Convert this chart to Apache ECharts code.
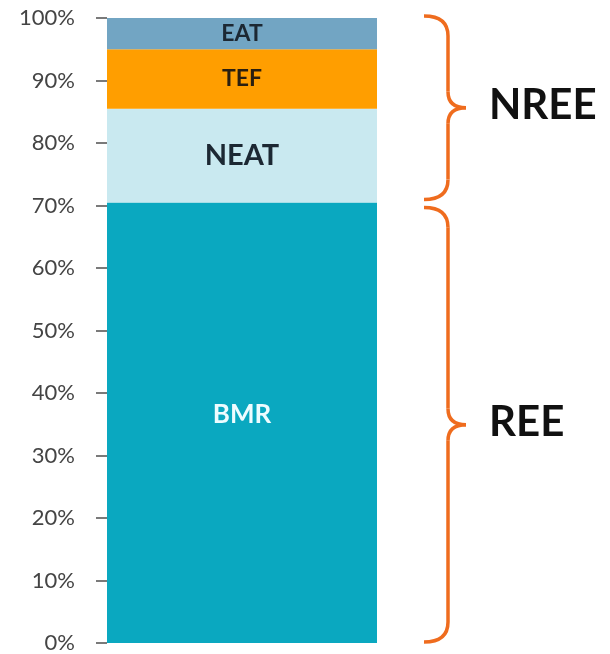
<!DOCTYPE html>
<html>
<head>
<meta charset="utf-8">
<style>
  html, body { margin: 0; padding: 0; background: #fff; }
  #chart { width: 610px; height: 654px; }
</style>
<script src="https://cdn.jsdelivr.net/npm/echarts@6/dist/echarts.min.js"></script>
</head>
<body>
<div id="chart"></div>
<script>
// data
var categories = ['Energy']
var bmr = [70.5]
var neat = [15]
var tef = [9.5]
var eat = [5]
var yTickStep = 10
// brace groups (NREE = NEAT + TEF + EAT, REE = BMR)
var braceLabels = ['NREE', 'REE']
var braceFrom = [70.5, 0]
var braceTo = [100, 70.5]

var chart = echarts.init(document.getElementById('chart'))

function segLabel (name, size, color) {
  return {
    show: true,
    position: 'inside',
    formatter: name,
    color: color,
    fontFamily: 'Lato',
    fontWeight: 'bold',
    fontSize: size
  }
}

chart.setOption({
  animation: false,
  grid: {
    left: 107,
    top: 18,
    bottom: 10,
    width: 270
  },
  xAxis: {
    type: 'category',
    data: categories,
    show: false
  },
  yAxis: {
    type: 'value',
    min: 0,
    max: 100,
    interval: yTickStep,
    axisLine: { show: false },
    axisTick: {
      show: true,
      length: 11,
      lineStyle: { color: '#7a7a7a', width: 2 }
    },
    axisLabel: {
      margin: 32,
      formatter: '{value}%',
      color: '#444',
      fontFamily: 'Lato',
      fontSize: 22
    },
    splitLine: { show: false }
  },
  series: [
    {
      name: 'BMR',
      type: 'bar',
      stack: 'total',
      barWidth: '100%',
      data: bmr,
      itemStyle: { color: '#0aa8c0' },
      label: Object.assign(segLabel('BMR', 26, '#eefcff'), { offset: [0, -8] })
    },
    {
      name: 'NEAT',
      type: 'bar',
      stack: 'total',
      data: neat,
      itemStyle: { color: '#c9e9f0' },
      label: segLabel('NEAT', 29, '#1c2833')
    },
    {
      name: 'TEF',
      type: 'bar',
      stack: 'total',
      data: tef,
      itemStyle: { color: '#ff9e00' },
      label: segLabel('TEF', 23, '#2a1f10')
    },
    {
      name: 'EAT',
      type: 'bar',
      stack: 'total',
      data: eat,
      itemStyle: { color: '#72a5c3' },
      label: segLabel('EAT', 23, '#1c2833')
    }
  ]
})

// braces on the right, placed from the axis scale
var braceStyle = { stroke: '#ef6c1e', lineWidth: 3.5, fill: 'none' }
function curve (x1, y1, cx, cy, x2, y2) {
  return {
    type: 'bezierCurve',
    shape: { x1: x1, y1: y1, cpx1: cx, cpy1: cy, x2: x2, y2: y2 },
    style: braceStyle
  }
}
function vline (x, y1, y2) {
  return {
    type: 'line',
    shape: { x1: x, y1: y1, x2: x, y2: y2 },
    style: braceStyle
  }
}
function brace (y0, y1) {
  var x0 = 424 // curl end
  var xl = 448 // vertical stroke
  var xt = 466 // tip
  var r = 20
  var ym = (y0 + y1) / 2
  return [
    curve(x0, y0, xl, y0, xl, y0 + r),
    vline(xl, y0 + r, ym - 16),
    curve(xl, ym - 16, xl, ym, xt, ym),
    curve(xt, ym, xl, ym, xl, ym + 16),
    vline(xl, ym + 16, y1 - r),
    curve(xl, y1 - r, xl, y1, x0, y1)
  ]
}

var elements = []
braceLabels.forEach(function (name, i) {
  // leave a small gap between the two braces
  var yTop = chart.convertToPixel({ yAxisIndex: 0 }, braceTo[i]) + (braceTo[i] < 100 ? 5 : -2)
  var yBot = chart.convertToPixel({ yAxisIndex: 0 }, braceFrom[i]) + (braceFrom[i] > 0 ? -3 : -1)
  elements = elements.concat(brace(yTop, yBot))
  elements.push({
    type: 'text',
    x: 489,
    y: (yTop + yBot) / 2 - 2,
    style: {
      text: name,
      fill: '#111',
      font: 'bold 42px Lato',
      verticalAlign: 'middle'
    }
  })
})
chart.setOption({ graphic: elements })
</script>
</body>
</html>
